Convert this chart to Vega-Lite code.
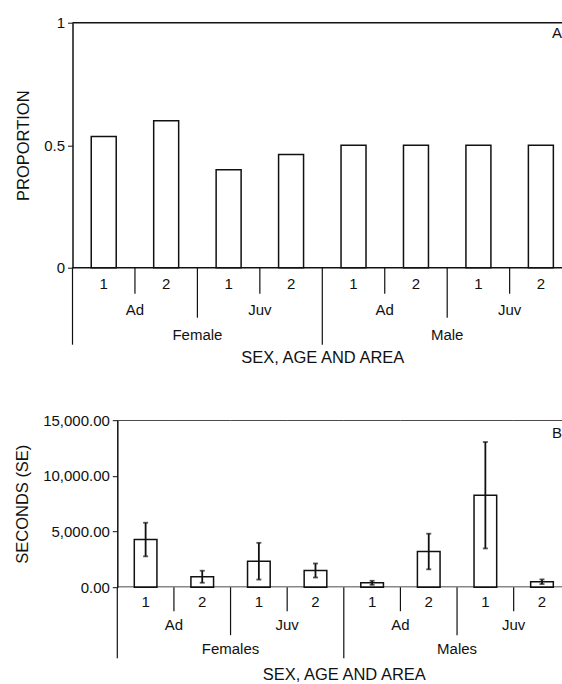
{
  "$schema": "https://vega.github.io/schema/vega-lite/v6.json",
  "padding": {"left": 14.5, "top": 15.7, "right": 0, "bottom": 0},
  "spacing": 46.5,
  "config": {
    "font": "Liberation Sans",
    "view": {"stroke": null},
    "axis": {"labelFont": "Liberation Sans", "titleFont": "Liberation Sans", "labelFontSize": 15, "titleFontSize": 16.5, "titleFontWeight": "normal", "labelColor": "#111", "titleColor": "#111", "domainColor": "#111", "tickColor": "#111", "grid": false},
    "text": {"font": "Liberation Sans", "fontSize": 15, "color": "#111"},
    "title": {"font": "Liberation Sans", "fontSize": 15, "fontWeight": "normal", "color": "#111"}
  },
  "vconcat": [
    {
      "width": 489.5,
      "height": 245,
      "title": {"text": "A", "anchor": "end", "frame": "group", "offset": -25.5},
      "data": {"values": [
        {"slot": "F-Ad-1", "sex": "Female", "age": "Ad", "area": "1", "value": 0.535},
        {"slot": "F-Ad-2", "sex": "Female", "age": "Ad", "area": "2", "value": 0.6},
        {"slot": "F-Juv-1", "sex": "Female", "age": "Juv", "area": "1", "value": 0.4},
        {"slot": "F-Juv-2", "sex": "Female", "age": "Juv", "area": "2", "value": 0.462},
        {"slot": "M-Ad-1", "sex": "Male", "age": "Ad", "area": "1", "value": 0.5},
        {"slot": "M-Ad-2", "sex": "Male", "age": "Ad", "area": "2", "value": 0.5},
        {"slot": "M-Juv-1", "sex": "Male", "age": "Juv", "area": "1", "value": 0.5},
        {"slot": "M-Juv-2", "sex": "Male", "age": "Juv", "area": "2", "value": 0.5}
      ]},
      "layer": [
        {
          "mark": {"type": "bar", "fill": "white", "stroke": "#111", "strokeWidth": 1.5, "width": {"band": 0.4}},
          "encoding": {
            "x": {"field": "slot", "type": "nominal", "sort": null,
                  "scale": {"domain": ["F-Ad-1", "F-Ad-2", "F-Juv-1", "F-Juv-2", "M-Ad-1", "M-Ad-2", "M-Juv-1", "M-Juv-2"], "range": [0, 499.6], "paddingInner": 0, "paddingOuter": 0},
                  "axis": {"labels": false, "ticks": false, "domain": false, "title": "SEX, AGE AND AREA", "titlePadding": 82}},
            "y": {"field": "value", "type": "quantitative", "scale": {"domain": [0, 1], "nice": false},
                  "axis": {"values": [0, 0.5, 1], "format": "~g", "title": "PROPORTION", "tickSize": 5, "domainWidth": 1.5, "titlePadding": 12, "labelPadding": 3}}
          }
        },
        {
          "data": {"values": [{}]},
          "mark": {"type": "rule", "color": "#111", "strokeWidth": 1.5},
          "encoding": {"y": {"datum": 1, "type": "quantitative"}}
        },
        {
          "data": {"values": [{}]},
          "mark": {"type": "rule", "color": "#111", "strokeWidth": 1.5},
          "encoding": {"y": {"datum": 0, "type": "quantitative"}}
        },
        {
          "mark": {"type": "text", "dy": 16.5, "baseline": "middle"},
          "encoding": {
            "x": {"field": "slot", "type": "nominal", "sort": null},
            "y": {"datum": 0, "type": "quantitative"},
            "text": {"field": "area"}
          }
        },
        {
          "transform": [{"filter": "datum.area == '2'"}],
          "mark": {"type": "rule", "color": "#111", "strokeWidth": 1.2, "y2Offset": 26},
          "encoding": {
            "x": {"field": "slot", "type": "nominal", "sort": null, "bandPosition": 0},
            "y": {"datum": 0, "type": "quantitative"},
            "y2": {"datum": 0}
          }
        },
        {
          "transform": [{"filter": "datum.area == '1' && datum.age == 'Juv'"}],
          "mark": {"type": "rule", "color": "#111", "strokeWidth": 1.2, "y2Offset": 50},
          "encoding": {
            "x": {"field": "slot", "type": "nominal", "sort": null, "bandPosition": 0},
            "y": {"datum": 0, "type": "quantitative"},
            "y2": {"datum": 0}
          }
        },
        {
          "transform": [{"filter": "datum.area == '1' && datum.age == 'Ad'"}],
          "mark": {"type": "rule", "color": "#111", "strokeWidth": 1.2, "y2Offset": 77},
          "encoding": {
            "x": {"field": "slot", "type": "nominal", "sort": null, "bandPosition": 0},
            "y": {"datum": 0, "type": "quantitative"},
            "y2": {"datum": 0}
          }
        },
        {
          "transform": [{"filter": "datum.area == '2'"}],
          "mark": {"type": "text", "dy": 42, "baseline": "middle"},
          "encoding": {
            "x": {"field": "slot", "type": "nominal", "sort": null, "bandPosition": 0},
            "y": {"datum": 0, "type": "quantitative"},
            "text": {"field": "age"}
          }
        },
        {
          "transform": [{"filter": "datum.area == '1' && datum.age == 'Juv'"}],
          "mark": {"type": "text", "dy": 67, "baseline": "middle"},
          "encoding": {
            "x": {"field": "slot", "type": "nominal", "sort": null, "bandPosition": 0},
            "y": {"datum": 0, "type": "quantitative"},
            "text": {"field": "sex"}
          }
        }
      ]
    },
    {
      "width": 489.5,
      "height": 167,
      "title": {"text": "B", "anchor": "end", "frame": "group", "offset": -27.5},
      "data": {"values": [
        {"slot": "F-Ad-1", "sex": "Females", "age": "Ad", "area": "1", "mean": 4280, "se": 1510},
        {"slot": "F-Ad-2", "sex": "Females", "age": "Ad", "area": "2", "mean": 940, "se": 540},
        {"slot": "F-Juv-1", "sex": "Females", "age": "Juv", "area": "1", "mean": 2335, "se": 1650},
        {"slot": "F-Juv-2", "sex": "Females", "age": "Juv", "area": "2", "mean": 1500, "se": 630},
        {"slot": "M-Ad-1", "sex": "Males", "age": "Ad", "area": "1", "mean": 395, "se": 180},
        {"slot": "M-Ad-2", "sex": "Males", "age": "Ad", "area": "2", "mean": 3205, "se": 1600},
        {"slot": "M-Juv-1", "sex": "Males", "age": "Juv", "area": "1", "mean": 8260, "se": 4780},
        {"slot": "M-Juv-2", "sex": "Males", "age": "Juv", "area": "2", "mean": 490, "se": 210}
      ]},
      "layer": [
        {
          "mark": {"type": "bar", "fill": "white", "stroke": "#111", "strokeWidth": 1.5, "width": {"band": 0.4}},
          "encoding": {
            "x": {"field": "slot", "type": "nominal", "sort": null,
                  "scale": {"domain": ["F-Ad-1", "F-Ad-2", "F-Juv-1", "F-Juv-2", "M-Ad-1", "M-Ad-2", "M-Juv-1", "M-Juv-2"], "range": [44.8, 497.8], "paddingInner": 0, "paddingOuter": 0},
                  "axis": {"labels": false, "ticks": false, "domain": false, "title": "SEX, AGE AND AREA", "titlePadding": 79}},
            "y": {"field": "mean", "type": "quantitative", "scale": {"domain": [0, 15000], "nice": false},
                  "axis": {"values": [0, 5000, 10000, 15000], "format": ",.2f", "title": "SECONDS (SE)", "offset": -44.8, "tickSize": 5, "domainWidth": 1.5, "titlePadding": 12, "labelPadding": 3}}
          }
        },
        {
          "mark": {"type": "errorbar", "color": "#111", "ticks": {"size": 5, "thickness": 1.8}, "rule": {"strokeWidth": 1.8}},
          "encoding": {
            "x": {"field": "slot", "type": "nominal", "sort": null},
            "y": {"field": "mean", "type": "quantitative", "title": "SECONDS (SE)"},
            "yError": {"field": "se"}
          }
        },
        {
          "mark": {"type": "rect", "fill": null, "stroke": "#111", "strokeWidth": 1.5, "clip": true},
          "encoding": {
            "x": {"field": "slot", "type": "nominal", "sort": null},
            "y": {"datum": 15000, "type": "quantitative"},
            "y2": {"datum": 15000}
          }
        },
        {
          "mark": {"type": "rect", "fill": null, "stroke": "#111", "strokeWidth": 1.5, "clip": true},
          "encoding": {
            "x": {"field": "slot", "type": "nominal", "sort": null},
            "y": {"datum": 0, "type": "quantitative"},
            "y2": {"datum": 0}
          }
        },
        {
          "mark": {"type": "text", "dy": 14.6, "baseline": "middle"},
          "encoding": {
            "x": {"field": "slot", "type": "nominal", "sort": null},
            "y": {"datum": 0, "type": "quantitative"},
            "text": {"field": "area"}
          }
        },
        {
          "transform": [{"filter": "datum.area == '2'"}],
          "mark": {"type": "rule", "color": "#111", "strokeWidth": 1.2, "y2Offset": 24},
          "encoding": {
            "x": {"field": "slot", "type": "nominal", "sort": null, "bandPosition": 0},
            "y": {"datum": 0, "type": "quantitative"},
            "y2": {"datum": 0}
          }
        },
        {
          "transform": [{"filter": "datum.area == '1' && datum.age == 'Juv'"}],
          "mark": {"type": "rule", "color": "#111", "strokeWidth": 1.2, "y2Offset": 48},
          "encoding": {
            "x": {"field": "slot", "type": "nominal", "sort": null, "bandPosition": 0},
            "y": {"datum": 0, "type": "quantitative"},
            "y2": {"datum": 0}
          }
        },
        {
          "transform": [{"filter": "datum.area == '1' && datum.age == 'Ad'"}],
          "mark": {"type": "rule", "color": "#111", "strokeWidth": 1.2, "y2Offset": 71},
          "encoding": {
            "x": {"field": "slot", "type": "nominal", "sort": null, "bandPosition": 0},
            "y": {"datum": 0, "type": "quantitative"},
            "y2": {"datum": 0}
          }
        },
        {
          "transform": [{"filter": "datum.area == '2'"}],
          "mark": {"type": "text", "dy": 38, "baseline": "middle"},
          "encoding": {
            "x": {"field": "slot", "type": "nominal", "sort": null, "bandPosition": 0},
            "y": {"datum": 0, "type": "quantitative"},
            "text": {"field": "age"}
          }
        },
        {
          "transform": [{"filter": "datum.area == '1' && datum.age == 'Juv'"}],
          "mark": {"type": "text", "dy": 62, "baseline": "middle"},
          "encoding": {
            "x": {"field": "slot", "type": "nominal", "sort": null, "bandPosition": 0},
            "y": {"datum": 0, "type": "quantitative"},
            "text": {"field": "sex"}
          }
        }
      ]
    }
  ]
}
